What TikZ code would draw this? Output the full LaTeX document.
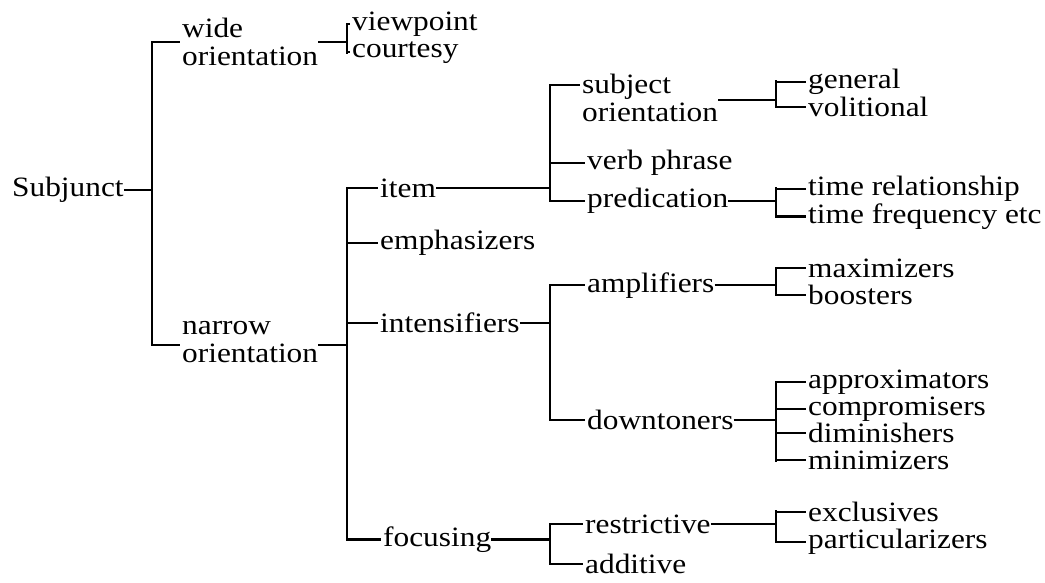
\documentclass[tikz,border=0pt]{standalone}
\usepackage{fontspec}
\setmainfont{Liberation Serif}[FakeStretch=1.12]
\begin{document}
\begin{tikzpicture}[x=1pt,y=-1pt,
  lbl/.style={inner sep=0pt, anchor=mid west, font=\fontsize{28}{28}\selectfont},
  lbltwo/.style={inner sep=0pt, anchor=west, align=left, font=\fontsize{28}{28}\selectfont},
  wire/.style={line width=2.1pt},
  stub/.style={line width=2.1pt, shorten >=2pt},
  spine/.style={line width=2.8pt, line cap=rect}]
\useasboundingbox[fill=white] (0,0) rectangle (1045,583);

% ---- labels ----
\node[lbl]    (root)    at (12,194)  {Subjunct};
\node[lbltwo] (wide)    at (182,42)  {wide\\orientation};
\node[lbltwo] (narrow)  at (182,342) {narrow\\orientation};
\node[lbl]    (viewpt)  at (352,28)  {viewpoint};
\node[lbl]    (court)   at (352,55)  {courtesy};
\node[lbl]    (item)    at (380,195) {item};
\node[lbl]    (emph)    at (380,247) {emphasizers};
\node[lbl]    (intens)  at (380,330) {intensifiers};
\node[lbl]    (focus)   at (383,544) {focusing};
\node[lbltwo] (subjor)  at (582,98)  {subject\\orientation};
\node[lbl]    (verb)    at (587,167) {verb phrase};
\node[lbl]    (pred)    at (587,205) {predication};
\node[lbl]    (ampl)    at (587,290) {amplifiers};
\node[lbl]    (down)    at (587,427) {downtoners};
\node[lbl]    (restr)   at (585,531) {restrictive};
\node[lbl]    (addit)   at (585,571) {additive};
\node[lbl]    (general) at (808,86)  {general};
\node[lbl]    (volit)   at (808,114) {volitional};
\node[lbl]    (trel)    at (808,193) {time relationship};
\node[lbl]    (tfreq)   at (808,221) {time frequency etc};
\node[lbl]    (maxim)   at (808,275) {maximizers};
\node[lbl]    (boost)   at (808,302) {boosters};
\node[lbl]    (approx)  at (808,386) {approximators};
\node[lbl]    (compro)  at (808,413) {compromisers};
\node[lbl]    (dimin)   at (808,440) {diminishers};
\node[lbl]    (minim)   at (808,467) {minimizers};
\node[lbl]    (excl)    at (808,519) {exclusives};
\node[lbl]    (partic)  at (808,546) {particularizers};

% ---- attachment points on two-line labels ----
\coordinate (narrowin)  at ([yshift=-3pt]narrow.west);
\coordinate (narrowout) at ([yshift=-3pt]narrow.east);
\coordinate (subjin)    at ([yshift=13pt]subjor.west);
\coordinate (subjout)   at ([yshift=-2pt]subjor.east);

% ---- bracket columns ----
\coordinate (c0) at (152,0);
\coordinate (c1) at (347,0);
\coordinate (c2) at (550,0);
\coordinate (c3) at (776,0);

% Subjunct
\draw[wire] (root.east) -- (root.east -| c0);
\draw[spine] (wide.west -| c0) -- (narrowin -| c0);
\draw[stub] (wide.west -| c0) -- (wide.west);
\draw[stub] (narrowin -| c0) -- (narrowin);

% wide orientation
\draw[wire] (wide.east) -- (wide.east -| c1);
\draw[spine] (viewpt.west -| c1) -- (court.west -| c1);
\draw[stub] (viewpt.west -| c1) -- (viewpt.west);
\draw[stub] (court.west -| c1) -- (court.west);

% narrow orientation
\draw[wire] (narrowout) -- (narrowout -| c1);
\draw[spine] (item.west -| c1) -- (focus.west -| c1);
\foreach \n in {item,emph,intens,focus}
  \draw[stub] (\n.west -| c1) -- (\n.west);

% item
\draw[wire] (item.east) -- (item.east -| c2);
\draw[spine] (subjin -| c2) -- (pred.west -| c2);
\draw[stub] (subjin -| c2) -- (subjin);
\draw[stub] (verb.west -| c2) -- (verb.west);
\draw[stub] (pred.west -| c2) -- (pred.west);

% subject orientation
\draw[wire] (subjout) -- (subjout -| c3);
\draw[spine] (general.west -| c3) -- (volit.west -| c3);
\draw[stub] (general.west -| c3) -- (general.west);
\draw[stub] (volit.west -| c3) -- (volit.west);

% predication
\draw[wire] (pred.east) -- (pred.east -| c3);
\draw[spine] (trel.west -| c3) -- (tfreq.west -| c3);
\draw[stub] (trel.west -| c3) -- (trel.west);
\draw[stub] (tfreq.west -| c3) -- (tfreq.west);

% intensifiers
\draw[wire] (intens.east) -- (intens.east -| c2);
\draw[spine] (ampl.west -| c2) -- (down.west -| c2);
\draw[stub] (ampl.west -| c2) -- (ampl.west);
\draw[stub] (down.west -| c2) -- (down.west);

% amplifiers
\draw[wire] (ampl.east) -- (ampl.east -| c3);
\draw[spine] (maxim.west -| c3) -- (boost.west -| c3);
\draw[stub] (maxim.west -| c3) -- (maxim.west);
\draw[stub] (boost.west -| c3) -- (boost.west);

% downtoners
\draw[wire] (down.east) -- (down.east -| c3);
\draw[spine] (approx.west -| c3) -- (minim.west -| c3);
\foreach \n in {approx,compro,dimin,minim}
  \draw[stub] (\n.west -| c3) -- (\n.west);

% focusing
\draw[wire] (focus.east) -- (focus.east -| c2);
\draw[spine] (restr.west -| c2) -- (addit.west -| c2);
\draw[stub] (restr.west -| c2) -- (restr.west);
\draw[stub] (addit.west -| c2) -- (addit.west);

% restrictive
\draw[wire] (restr.east) -- (restr.east -| c3);
\draw[spine] (excl.west -| c3) -- (partic.west -| c3);
\draw[stub] (excl.west -| c3) -- (excl.west);
\draw[stub] (partic.west -| c3) -- (partic.west);
\end{tikzpicture}
\end{document}
